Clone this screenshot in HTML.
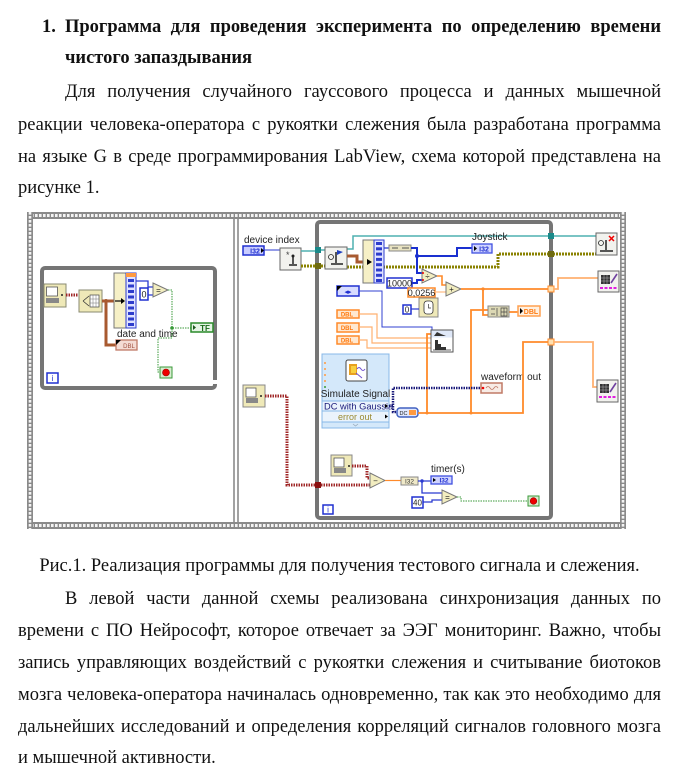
<!DOCTYPE html>
<html><head><meta charset="utf-8">
<style>
html,body{margin:0;padding:0;background:#fff;}
body{width:674px;height:768px;position:relative;overflow:hidden;font-family:"Liberation Serif","Noto Serif CJK SC",serif;font-size:18.5px;color:#111;}
.t{position:absolute;white-space:nowrap;line-height:20px;}
.j{text-align:justify;text-align-last:justify;white-space:normal;}
.b{font-weight:bold;}
svg text{font-family:"Liberation Sans",sans-serif;}
</style></head><body>

<div class="t b" style="left:42px;top:17px;">1.</div>
<div class="t b j" style="left:65px;top:17px;width:596px;">Программа для проведения эксперимента по определению времени</div>
<div class="t b" style="left:65px;top:48px;">чистого запаздывания</div>
<div class="t j" style="left:65px;top:82px;width:596px;">Для получения случайного гауссового процесса и данных мышечной</div>
<div class="t j" style="left:18px;top:115px;width:643px;">реакции человека-оператора с рукоятки слежения была разработана программа</div>
<div class="t j" style="left:18px;top:147px;width:643px;">на языке G в среде программирования LabView, схема которой представлена на</div>
<div class="t" style="left:18px;top:178px;">рисунке 1.</div>

<div class="t" style="left:18px;top:556px;width:643px;text-align:center;">Рис.1. Реализация программы для получения тестового сигнала и слежения.</div>
<div class="t j" style="left:65px;top:589px;width:596px;">В левой части данной схемы реализована синхронизация данных по</div>
<div class="t j" style="left:18px;top:621px;width:643px;">времени с ПО Нейрософт, которое отвечает за ЭЭГ мониторинг. Важно, чтобы</div>
<div class="t j" style="left:18px;top:653px;width:643px;">запись управляющих воздействий с рукоятки слежения и считывание биотоков</div>
<div class="t j" style="left:18px;top:685px;width:643px;">мозга человека-оператора начиналась одновременно, так как это необходимо для</div>
<div class="t j" style="left:18px;top:717px;width:643px;">дальнейших исследований и определения корреляций сигналов головного мозга</div>
<div class="t" style="left:18px;top:748px;">и мышечной активности.</div>

<svg width="674" height="768" style="position:absolute;left:0;top:0" xmlns="http://www.w3.org/2000/svg">
<!-- film strip frame -->
<rect x="27" y="212" width="599" height="317" fill="#fff"/>
<rect x="27" y="212" width="599" height="7" fill="#8a8a8a"/>
<line x1="27" y1="215.5" x2="626" y2="215.5" stroke="#f4f4f4" stroke-width="3" stroke-dasharray="2.6 1.4"/>
<rect x="27" y="522" width="599" height="7" fill="#8a8a8a"/>
<line x1="27" y1="525.5" x2="626" y2="525.5" stroke="#f4f4f4" stroke-width="3" stroke-dasharray="2.6 1.4"/>
<rect x="27" y="212" width="6" height="317" fill="#8a8a8a"/>
<line x1="30" y1="212" x2="30" y2="529" stroke="#f4f4f4" stroke-width="2.6" stroke-dasharray="2.6 1.4"/>
<rect x="620" y="212" width="6" height="317" fill="#8a8a8a"/>
<line x1="623" y1="212" x2="623" y2="529" stroke="#f4f4f4" stroke-width="2.6" stroke-dasharray="2.6 1.4"/>
<line x1="234" y1="219" x2="234" y2="522" stroke="#8a8a8a" stroke-width="1.6"/>
<line x1="238" y1="219" x2="238" y2="522" stroke="#8a8a8a" stroke-width="1.6"/>

<!-- loops -->
<rect x="42" y="268" width="173" height="120" rx="3" fill="none" stroke="#757575" stroke-width="4"/>
<rect x="212" y="380" width="6" height="4" fill="#fff"/>
<rect x="317" y="222" width="234" height="296" rx="3" fill="none" stroke="#757575" stroke-width="4"/>

<!-- ===== LEFT FRAME ===== -->
<rect x="44" y="284" width="22" height="23" fill="#efe9b8" stroke="#8a8a70"/>
<rect x="46.5" y="287" width="11" height="9" fill="#fff" stroke="#555" stroke-width=".8"/>
<rect x="46" y="298" width="13" height="5" fill="#888"/>
<circle cx="62" cy="295" r="1" fill="#222"/>
<line x1="66" y1="295" x2="79" y2="295" stroke="#a02828" stroke-width="3" stroke-dasharray="1.5 1"/>
<rect x="79" y="290" width="23" height="22" fill="#efe9b8" stroke="#8a8a70"/>
<path d="M83 301 L89 296 M83 301 L89 306" stroke="#333" stroke-width=".8" fill="none"/>
<rect x="90" y="295" width="9" height="12" fill="#fff" stroke="#444" stroke-width=".7"/>
<path d="M90 299H99M90 303H99M93 295V307M96 295V307" stroke="#777" stroke-width=".5"/>
<path d="M102 301H118 M106 301V345H116" stroke="#a85a30" stroke-width="3" fill="none"/>
<circle cx="106" cy="301" r="2" fill="#a85a30"/>
<rect x="114" y="273" width="12" height="55" fill="#f6f0c6" stroke="#777"/>
<path d="M115 301H122" stroke="#000" stroke-width="1.2"/>
<polygon points="121,298 125,301 121,304" fill="#000"/>
<rect x="126" y="273" width="10" height="55" fill="#dfe2ff" stroke="#2d3ccc"/>
<rect x="126" y="273" width="10" height="4" fill="#ff9a40"/>
<g fill="#2d3ccc">
<rect x="128" y="279" width="6" height="3"/><rect x="128" y="284.5" width="6" height="3"/><rect x="128" y="290" width="6" height="3"/><rect x="128" y="295.5" width="6" height="3"/><rect x="128" y="301" width="6" height="3"/><rect x="128" y="306.5" width="6" height="3"/><rect x="128" y="312" width="6" height="3"/><rect x="128" y="317.5" width="6" height="3"/><rect x="128" y="323" width="6" height="3"/>
</g>
<path d="M136 281H148V287H154 M148 295H154" stroke="#2a3ad0" stroke-width="1.3" fill="none"/>
<rect x="140" y="288" width="8" height="12" fill="#fff" stroke="#2030d0" stroke-width="1.5"/>
<text x="144" y="297.5" font-size="9" text-anchor="middle" fill="#222">0</text>
<polygon points="153,283 168,290 153,297" fill="#f2edc0" stroke="#777"/>
<text x="158.5" y="293" font-size="8" text-anchor="middle" fill="#222">=</text>
<path d="M168 290H172V328H191 M172 328V338H158V372H160" stroke="#3a9a3a" stroke-width="1" stroke-dasharray="1.5 1" fill="none"/>
<circle cx="172" cy="328" r="1.8" fill="#3a9a3a"/>
<rect x="191" y="323" width="22" height="9" fill="#e4f4e4" stroke="#2a8a2a" stroke-width="1.5"/>
<polygon points="193,325 196,327.5 193,330" fill="#1a5a1a"/>
<text x="205" y="331" font-size="8" font-weight="bold" text-anchor="middle" fill="#1a6a1a">TF</text>
<rect x="160" y="367" width="12" height="11" fill="#d8ecd0" stroke="#3a9a3a"/>
<circle cx="166" cy="372.5" r="3.5" fill="#e00" stroke="#900" stroke-width=".6"/>
<text x="117" y="337" font-size="10" fill="#222">date and time</text>
<rect x="116" y="340" width="21" height="10" fill="#f4dcd4" stroke="#c07a66" stroke-width="1.3"/>
<polygon points="116,340 121,340 116,345" fill="#000"/>
<text x="129" y="348" font-size="6" text-anchor="middle" fill="#a05040">DBL</text>
<rect x="47" y="373" width="11" height="10" fill="#fff" stroke="#2030d0" stroke-width="1.5"/>
<text x="52.5" y="381" font-size="8" text-anchor="middle" fill="#2030d0">i</text>

<!-- ===== RIGHT FRAME, outside loop ===== -->
<text x="244" y="243" font-size="10" fill="#222">device index</text>
<rect x="243" y="246" width="21" height="9" fill="#c8ccff" stroke="#2030d0" stroke-width="1.5"/>
<text x="255" y="253.5" font-size="7" font-weight="bold" text-anchor="middle" fill="#2030d0">I32</text>
<polygon points="261,248 264,250.5 261,253" fill="#000"/>
<path d="M264 250H280" stroke="#2a3ad0" stroke-width="1"/>
<rect x="280" y="248" width="21" height="22" fill="#f2f2ee" stroke="#666"/>
<text x="286" y="258" font-size="9" fill="#444">*</text>
<path d="M293 256V264 M289 265H297" stroke="#222" stroke-width="1.5"/>
<circle cx="293" cy="256" r="1.5" fill="#222"/>
<path d="M301 251H315" stroke="#4fb0b0" stroke-width="1.5"/>
<path d="M301 266H315" stroke="#8a8200" stroke-width="3" stroke-dasharray="2 1"/>
<rect x="315" y="247" width="6" height="6" fill="#1a8a8a"/>
<rect x="315" y="263" width="6" height="6" fill="#6e6a10"/>

<!-- ===== RIGHT LOOP INTERIOR ===== -->
<path d="M321 250H325 M347 249H353V236H596" stroke="#4fb0b0" stroke-width="1.5" fill="none"/>
<path d="M321 266H325 M347 267H498V254H596" stroke="#8a8200" stroke-width="3" stroke-dasharray="2 1" fill="none"/>
<rect x="325" y="247" width="22" height="22" fill="#f2f2ee" stroke="#666"/>
<circle cx="331" cy="257" r="2.5" fill="none" stroke="#222" stroke-width=".8"/>
<path d="M336 252V263 M331 264H343" stroke="#222" stroke-width="1.5"/>
<polygon points="337,250 343,252 337,255" fill="#2040c0"/>
<path d="M347 256H357V262H366" stroke="#a85a30" stroke-width="3" fill="none"/>
<rect x="363" y="240" width="11" height="43" fill="#f6f0c6" stroke="#777"/>
<polygon points="367,259 372,262 367,265" fill="#000"/>
<rect x="374" y="240" width="10" height="43" fill="#dfe2ff" stroke="#2d3ccc"/>
<g fill="#2d3ccc">
<rect x="376" y="242" width="6" height="3"/><rect x="376" y="247.3" width="6" height="3"/><rect x="376" y="252.6" width="6" height="3"/><rect x="376" y="257.9" width="6" height="3"/><rect x="376" y="263.2" width="6" height="3"/><rect x="376" y="268.5" width="6" height="3"/><rect x="376" y="273.8" width="6" height="3"/><rect x="376" y="279" width="6" height="3"/>
</g>
<path d="M384 248H389" stroke="#2a3ad0" stroke-width="1.3"/>
<rect x="389" y="245" width="22" height="6" fill="#e8e2c0" stroke="#888"/>
<path d="M392 248H398 M402 248H409" stroke="#555" stroke-width="1"/>
<path d="M411 248H417V256 M417 256H457V248H472 M417 256V273H423 M412 283H417V280H423" stroke="#1a30d0" stroke-width="2" fill="none"/>
<circle cx="417" cy="256" r="2" fill="#1a30d0"/>
<text x="472" y="240" font-size="10" fill="#222">Joystick</text>
<rect x="472" y="244" width="20" height="9" fill="#d0d4ff" stroke="#4050e0" stroke-width="1.3"/>
<polygon points="474,246 477,248.5 474,251" fill="#000"/>
<text x="484" y="251.5" font-size="7" font-weight="bold" text-anchor="middle" fill="#2030d0">I32</text>
<rect x="387" y="278" width="25" height="10" fill="#fff" stroke="#2030d0" stroke-width="1.5"/>
<text x="399.5" y="286.5" font-size="9" text-anchor="middle" fill="#222">10000</text>
<polygon points="422,269 437,276 422,283" fill="#f2edc0" stroke="#777"/>
<text x="427.5" y="279" font-size="8" text-anchor="middle" fill="#222">÷</text>
<circle cx="423" cy="273" r="1" fill="#e00"/><circle cx="423" cy="280" r="1" fill="#e00"/>
<path d="M437 276H442V285H446" stroke="#ff8a2a" stroke-width="1.6" fill="none"/>
<rect x="408" y="288" width="27" height="9" fill="#fff" stroke="#ff8a2a" stroke-width="1.5"/>
<text x="421.5" y="296" font-size="9" text-anchor="middle" fill="#222">0,0256</text>
<path d="M435 292H446" stroke="#ffc08a" stroke-width="1.3"/>
<polygon points="446,282 461,289 446,296" fill="#f2edc0" stroke="#777"/>
<text x="451.5" y="292" font-size="8" text-anchor="middle" fill="#222">+</text>
<path d="M461 289H550 M483 289V315H488 M471 413V310H488 M509 312H518" stroke="#ff8a2a" stroke-width="1.8" fill="none"/>
<circle cx="483" cy="289" r="1.6" fill="#ff8a2a"/>
<rect x="488" y="306" width="21" height="11" fill="#dcd8b4" stroke="#888"/>
<path d="M491 309H495M491 314H495M497 308V316M501 308H507V316H501Z M501 312H507 M504 308V316" stroke="#444" stroke-width=".7" fill="none"/>
<rect x="518" y="306" width="22" height="10" fill="#fff0e0" stroke="#ffa050" stroke-width="1.5"/>
<polygon points="520,308 523,311 520,314" fill="#000"/>
<text x="531" y="314" font-size="7" font-weight="bold" text-anchor="middle" fill="#ff7a10">DBL</text>
<rect x="419" y="298" width="19" height="19" fill="#efe9b8" stroke="#888"/>
<rect x="424" y="301" width="9" height="13" rx="3" fill="#fff" stroke="#333" stroke-width=".8"/>
<path d="M428.5 304V308H431" stroke="#333" stroke-width=".7" fill="none"/>
<rect x="403" y="305" width="8" height="9" fill="#fff" stroke="#2030d0" stroke-width="1.5"/>
<text x="407" y="312.5" font-size="8" text-anchor="middle" fill="#222">0</text>
<path d="M411 309H419" stroke="#2a3ad0" stroke-width="1.2"/>

<rect x="337" y="286" width="22" height="10" fill="#d8dcff" stroke="#2030d0" stroke-width="1.5"/>
<polygon points="337,286 342,286 337,291" fill="#000"/>
<text x="348" y="294" font-size="7" text-anchor="middle" fill="#2030d0">◂▸</text>
<path d="M359 291H382V327H432V331" stroke="#3040d0" stroke-width="1" fill="none"/>
<g stroke="#ff8a2a" stroke-width="1.5" fill="#ffe8d0">
<rect x="337" y="310" width="22" height="8"/><rect x="337" y="323" width="22" height="9"/><rect x="337" y="336" width="22" height="8"/>
</g>
<g font-size="6" fill="#ff7a10" text-anchor="middle" font-weight="bold">
<text x="347" y="316.5">DBL</text><text x="347" y="330">DBL</text><text x="347" y="342.5">DBL</text>
</g>
<path d="M359 314H377V338H431 M359 327H372V343H431 M359 340H367V348H431" stroke="#ffb070" stroke-width="1.2" fill="none"/>
<path d="M427 413V334H431" stroke="#ff8a2a" stroke-width="1.8" fill="none"/>
<rect x="431" y="330" width="22" height="22" fill="#fff" stroke="#555"/>
<rect x="431.5" y="330.5" width="21" height="7" fill="#dfe8f8"/>
<polygon points="434,336 437,332 441,334 446,336" fill="#333"/>
<path d="M433 350H451" stroke="#333" stroke-width=".8"/>
<polygon points="435,350 435,340 438,340 438,344 441,344 441,347 446,347 446,350" fill="#333"/>

<!-- Simulate Signal -->
<rect x="322" y="354" width="67" height="74" fill="#d4e8fa" stroke="#88b8e8"/>
<g fill="#ff9a40"><circle cx="325" cy="363" r="1"/><circle cx="325" cy="369" r="1"/><circle cx="325" cy="375" r="1"/><circle cx="325" cy="381" r="1"/></g>
<circle cx="325" cy="387" r="1" fill="#3a9a3a"/>
<rect x="346" y="360" width="21" height="21" rx="2" fill="#fff" stroke="#444"/>
<rect x="349" y="364" width="8" height="11" fill="#e8a020"/>
<rect x="351" y="366" width="5" height="7" fill="#f8d040"/>
<path d="M357 369q2 -3 4 0t4 0 M356 373 L362 378" stroke="#7050d0" stroke-width="1" fill="none"/>
<text x="355.5" y="397" font-size="10" text-anchor="middle" fill="#222">Simulate Signal</text>
<rect x="322" y="401" width="67" height="10" fill="#eaf3fc" stroke="#88b8e8"/>
<text x="324" y="409.5" font-size="9.3" fill="#1a1a7a">DC with Gaussia</text>
<polygon points="385,404 388,406 385,408" fill="#000"/>
<rect x="322" y="411" width="67" height="11" fill="#eaf3fc" stroke="#88b8e8"/>
<text x="355" y="420" font-size="9" text-anchor="middle" fill="#9a8a30">error out</text>
<polygon points="385,414.5 388,416.5 385,418.5" fill="#000"/>
<path d="M353 424l2.5 2l2.5 -2" stroke="#9ab" stroke-width=".8" fill="none"/>
<path d="M389 406H393V388H482 M393 406V412H397" stroke="#1a1a7a" stroke-width="2.5" stroke-dasharray="1.5 1" fill="none"/>
<text x="481" y="380" font-size="10" fill="#222">waveform out</text>
<rect x="481" y="383" width="21" height="10" fill="#f8ece6" stroke="#c07a66" stroke-width="1.5"/>
<circle cx="483" cy="388" r="1.3" fill="#e00"/>
<path d="M486 388q2 -3 4 0t4 0t4 0" stroke="#c07a66" stroke-width=".8" fill="none"/>
<rect x="397" y="408" width="21" height="9" rx="3" fill="#e0e8ff" stroke="#4060c0" stroke-width="1.5"/>
<text x="403.5" y="415" font-size="5.5" text-anchor="middle" fill="#222">DC</text>
<rect x="409" y="410" width="7" height="5" fill="#ff9a40"/>
<path d="M418 413H523V342H550" stroke="#ff8a2a" stroke-width="1.8" fill="none"/>
<circle cx="427" cy="413" r="1.5" fill="#ff8a2a"/><circle cx="471" cy="413" r="1.5" fill="#ff8a2a"/>

<!-- right tunnels -->
<rect x="548" y="233" width="6" height="6" fill="#1a8a8a"/>
<rect x="548" y="251" width="6" height="6" fill="#6e6a10"/>
<rect x="548" y="286" width="6" height="6" fill="#ffe0b0" stroke="#ff8a2a" stroke-width="1"/>
<rect x="548" y="339" width="6" height="6" fill="#ffe0b0" stroke="#ff8a2a" stroke-width="1"/>
<path d="M554 289H558V278H598 M554 342H593V387H597" stroke="#ffb070" stroke-width="1.8" fill="none"/>

<!-- right side icons -->
<rect x="596" y="233" width="21" height="22" fill="#f2f2ee" stroke="#666"/>
<circle cx="601" cy="243" r="2.5" fill="none" stroke="#222" stroke-width=".8"/>
<path d="M606 240V250 M600 251H613" stroke="#222" stroke-width="1.5"/>
<path d="M609 236l5 5M614 236l-5 5" stroke="#e00" stroke-width="1.5"/>
<rect x="598" y="271" width="21" height="21" fill="#f2f2ee" stroke="#666"/>
<rect x="601" y="275" width="9" height="9" fill="#333"/>
<path d="M601 278H610M601 281H610M604 275V284M607 275V284" stroke="#bbb" stroke-width=".5"/>
<path d="M611 283L617 274" stroke="#7040a0" stroke-width="1.6"/>
<path d="M600 288H617" stroke="#e020e0" stroke-width="2" stroke-dasharray="3 1.5"/>
<rect x="597" y="380" width="21" height="22" fill="#f2f2ee" stroke="#666"/>
<rect x="600" y="384" width="9" height="9" fill="#333"/>
<path d="M600 387H609M600 390H609M603 384V393M606 384V393" stroke="#bbb" stroke-width=".5"/>
<path d="M610 392L616 383" stroke="#7040a0" stroke-width="1.6"/>
<path d="M599 397H616" stroke="#e020e0" stroke-width="2" stroke-dasharray="3 1.5"/>

<!-- bottom part -->
<rect x="243" y="385" width="22" height="22" fill="#efe9b8" stroke="#888"/>
<rect x="246" y="388" width="10" height="9" fill="#fff" stroke="#555" stroke-width=".8"/>
<rect x="246" y="398" width="12" height="5" fill="#888"/>
<circle cx="261" cy="396" r="1" fill="#222"/>
<path d="M265 396H287V485H370" stroke="#a02828" stroke-width="3" stroke-dasharray="1.5 1" fill="none"/>
<rect x="315" y="482" width="6" height="6" fill="#8a1010"/>
<rect x="331" y="455" width="21" height="21" fill="#efe9b8" stroke="#888"/>
<rect x="334" y="458" width="10" height="9" fill="#fff" stroke="#555" stroke-width=".8"/>
<rect x="334" y="468" width="12" height="5" fill="#888"/>
<circle cx="349" cy="466" r="1" fill="#222"/>
<path d="M352 466H367V478H370" stroke="#a02828" stroke-width="3" stroke-dasharray="1.5 1" fill="none"/>
<polygon points="370,473 385,480.5 370,488" fill="#f2edc0" stroke="#777"/>
<text x="375.5" y="483.5" font-size="8" text-anchor="middle" fill="#222">−</text>
<path d="M385 480.5H401" stroke="#ff8a2a" stroke-width="1.2"/>
<rect x="401" y="477" width="17" height="8" fill="#efe9c8" stroke="#888"/>
<text x="409.5" y="483.5" font-size="6.5" text-anchor="middle" fill="#333">I32</text>
<path d="M418 481H431 M422 481V493H443 M423 502H432V500H443" stroke="#2a3ad0" stroke-width="1.3" fill="none"/>
<circle cx="422" cy="481" r="1.7" fill="#2a3ad0"/>
<text x="431" y="472" font-size="10" fill="#222">timer(s)</text>
<rect x="431" y="476" width="21" height="8" fill="#d0d4ff" stroke="#4050e0" stroke-width="1.3"/>
<polygon points="433,478 436,480 433,482" fill="#000"/>
<text x="444" y="482.5" font-size="6.5" font-weight="bold" text-anchor="middle" fill="#2030d0">I32</text>
<rect x="412" y="497" width="11" height="11" fill="#fff" stroke="#2030d0" stroke-width="1.5"/>
<text x="417.5" y="505.5" font-size="8" text-anchor="middle" fill="#222">40</text>
<polygon points="442,490 457,497 442,504" fill="#f2edc0" stroke="#777"/>
<text x="447.5" y="500" font-size="8" text-anchor="middle" fill="#222">=</text>
<path d="M457 497H461V501H528" stroke="#3a9a3a" stroke-width="1" stroke-dasharray="1.5 1" fill="none"/>
<rect x="528" y="496" width="11" height="10" fill="#d8ecd0" stroke="#3a9a3a"/>
<circle cx="533.5" cy="501" r="3.3" fill="#e00" stroke="#900" stroke-width=".6"/>
<rect x="323" y="505" width="10" height="9" fill="#fff" stroke="#2030d0" stroke-width="1.5"/>
<text x="328" y="512.5" font-size="8" text-anchor="middle" fill="#2030d0">i</text>
</svg>
</body></html>
